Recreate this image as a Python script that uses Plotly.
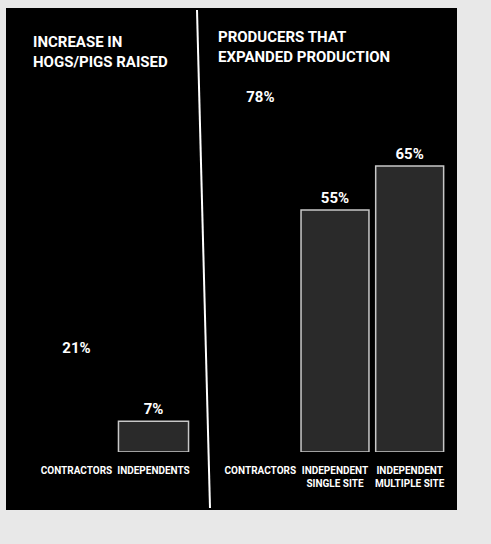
import plotly.graph_objects as go

W, H = 491, 544

# Data
left_title = "INCREASE IN<br>HOGS/PIGS RAISED"
left_cats = ["CONTRACTORS", "INDEPENDENTS"]
left_vals = [21, 7]

right_title = "PRODUCERS THAT<br>EXPANDED PRODUCTION"
right_cats = ["CONTRACTORS", "INDEPENDENT<br>SINGLE SITE", "INDEPENDENT<br>MULTIPLE SITE"]
right_vals = [78, 55, 65]

FONT = "Roboto, Liberation Sans, sans-serif"


def px(x):
    return x / W


def py(y):
    return 1 - y / H


def bar_colors(n):
    fills = ["#000000"] + ["#2a2a2a"] * (n - 1)
    lines = ["#000000"] + ["#c8c8c8"] * (n - 1)
    return fills, lines


fig = go.Figure()

lf, ll = bar_colors(len(left_cats))
fig.add_trace(go.Bar(
    x=left_cats, y=left_vals, xaxis="x", yaxis="y",
    marker=dict(color=lf, line=dict(color=ll, width=1.5)),
    text=[f"{v}%" for v in left_vals], textposition="outside",
    textfont=dict(color="white", size=15, family=FONT, weight="bold"),
    cliponaxis=False, showlegend=False,
))

rf, rl = bar_colors(len(right_cats))
fig.add_trace(go.Bar(
    x=right_cats, y=right_vals, xaxis="x2", yaxis="y2",
    marker=dict(color=rf, line=dict(color=rl, width=1.5)),
    text=[f"{v}%" for v in right_vals], textposition="outside",
    textfont=dict(color="white", size=15, family=FONT, weight="bold"),
    cliponaxis=False, showlegend=False,
))

ydom = [py(452), py(12)]
axis_common = dict(showgrid=False, zeroline=False, showline=False, ticks="",
                   tickangle=0, automargin=False, ticklabelstandoff=11,
                   tickfont=dict(color="white", size=10, family=FONT, weight="bold"))

fig.update_layout(
    width=W, height=H,
    margin=dict(l=0, r=0, t=0, b=0, autoexpand=False),
    paper_bgcolor="#e8e8e8",
    plot_bgcolor="rgba(0,0,0,0)",
    bargap=0.09,
    font=dict(family=FONT, color="white"),
    xaxis=dict(domain=[px(38), px(192)], anchor="y", **axis_common),
    yaxis=dict(domain=ydom, range=[0, 100], visible=False),
    xaxis2=dict(domain=[px(223), px(447)], anchor="y2", **axis_common),
    yaxis2=dict(domain=ydom, range=[0, 100], visible=False),
    shapes=[
        dict(type="rect", xref="paper", yref="paper", layer="below",
             x0=px(6), x1=px(457), y0=py(510), y1=py(8),
             fillcolor="#000000", line=dict(width=0)),
        dict(type="line", xref="paper", yref="paper",
             x0=px(197), x1=px(210), y0=py(10), y1=py(508),
             line=dict(color="white", width=2)),
    ],
    annotations=[
        dict(text=left_title, xref="paper", yref="paper",
             x=px(31), y=py(31), xanchor="left", yanchor="top", align="left",
             showarrow=False, font=dict(color="white", size=15, family=FONT, weight="bold")),
        dict(text=right_title, xref="paper", yref="paper",
             x=px(216), y=py(26), xanchor="left", yanchor="top", align="left",
             showarrow=False, font=dict(color="white", size=15, family=FONT, weight="bold")),
    ],
)

fig.write_html("out.html")
